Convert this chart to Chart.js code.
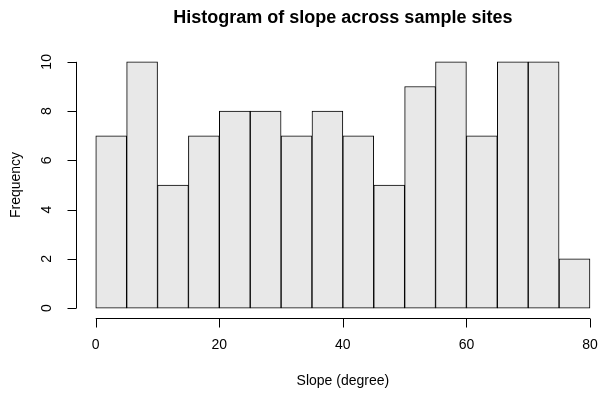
<!DOCTYPE html>
<html>
<head>
<meta charset="utf-8">
<script src="https://cdn.jsdelivr.net/npm/chart.js@4"></script>
<style>
  html, body { margin: 0; padding: 0; background: #fff; }
  #wrap { width: 598px; height: 394px; }
</style>
</head>
<body>
<div id="wrap"><canvas id="hist"></canvas></div>
<script>
// Histogram data (5 degree bins)
var binStarts = [0, 5, 10, 15, 20, 25, 30, 35, 40, 45, 50, 55, 60, 65, 70, 75];
var binWidth = 5;
var counts = [7, 10, 5, 7, 8, 8, 7, 8, 7, 5, 9, 10, 7, 10, 10, 2];
var xTicks = [0, 20, 40, 60, 80];
var yTicks = [0, 2, 4, 6, 8, 10];

var titleText = "Histogram of slope across sample sites";
var xLabel = "Slope (degree)";
var yLabel = "Frequency";

var FONT = "'Liberation Sans', Arial, sans-serif";

// R style axes, drawn off the plot region
var rAxes = {
    id: 'rAxes',
    afterDraw: function(chart) {
        var c = chart.ctx;
        var xs = chart.scales.x, ys = chart.scales.y;
        var area = chart.chartArea;
        var tick = 9;
        c.save();
        c.strokeStyle = '#000';
        c.fillStyle = '#000';
        c.lineWidth = 1;

        // x axis
        var xy = Math.round(area.bottom) + 0.5;
        c.beginPath();
        c.moveTo(xs.getPixelForValue(xTicks[0]), xy);
        c.lineTo(xs.getPixelForValue(xTicks[xTicks.length - 1]), xy);
        xTicks.forEach(function(v) {
            var px = Math.round(xs.getPixelForValue(v)) + 0.5;
            c.moveTo(px, xy);
            c.lineTo(px, xy + tick);
        });
        c.stroke();
        c.font = '14px ' + FONT;
        c.textAlign = 'center';
        c.textBaseline = 'middle';
        xTicks.forEach(function(v) {
            c.fillText(String(v), xs.getPixelForValue(v), 345);
        });
        c.fillText(xLabel, xs.getPixelForValue(40), 381);

        // y axis
        var yx = Math.round(area.left) + 0.5;
        c.beginPath();
        c.moveTo(yx, ys.getPixelForValue(yTicks[0]));
        c.lineTo(yx, ys.getPixelForValue(yTicks[yTicks.length - 1]));
        yTicks.forEach(function(v) {
            var py = Math.round(ys.getPixelForValue(v)) + 0.5;
            c.moveTo(yx, py);
            c.lineTo(yx - tick, py);
        });
        c.stroke();
        yTicks.forEach(function(v) {
            c.save();
            c.translate(47, ys.getPixelForValue(v));
            c.rotate(-Math.PI / 2);
            c.fillText(String(v), 0, 0);
            c.restore();
        });
        c.save();
        c.translate(16, ys.getPixelForValue(5));
        c.rotate(-Math.PI / 2);
        c.fillText(yLabel, 0, 0);
        c.restore();

        // title
        c.font = 'bold 18px ' + FONT;
        c.fillText(titleText, xs.getPixelForValue(40), 18);
        c.restore();
    }
};

var ctx = document.getElementById('hist');

var chartData = {
    datasets: [{
        label: 'slope',
        data: binStarts.map(function(b, i) { return { x: b + binWidth / 2, y: counts[i] }; }),
        backgroundColor: '#E8E8E8',
        borderColor: '#000',
        borderWidth: 1,
        barPercentage: 1.0,
        categoryPercentage: 1.0,
        borderSkipped: false
    }]
};

var config = {
    type: 'bar',
    data: chartData,
    options: {
        responsive: true,
        maintainAspectRatio: false,
        animation: false,
        layout: { padding: { left: 76, right: 0, top: 52, bottom: 76 } },
        plugins: {
            legend: { display: false },
            tooltip: { enabled: false }
        },
        scales: {
            x: { type: 'linear', display: false, min: -3.2, max: 81.3, offset: false },
            y: { display: false, min: -0.4, max: 10.4 }
        }
    },
    plugins: [rAxes]
};

var histChart = new Chart(ctx, config);
</script>
</body>
</html>
